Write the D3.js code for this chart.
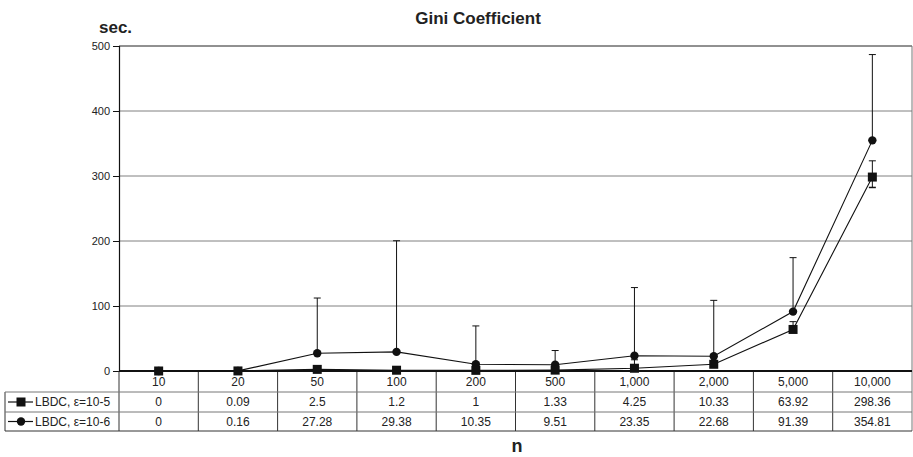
<!DOCTYPE html>
<html>
<head>
<meta charset="utf-8">
<script src="https://cdn.jsdelivr.net/npm/d3@7"></script>
<style>
  html, body { margin: 0; padding: 0; background: #fff; }
  svg { display: block; font-family: "Liberation Sans", Arial, sans-serif; }
</style>
</head>
<body>
<svg id="chart" width="913" height="457"></svg>
<script>
// Run time (sec.) of LBDC for the Gini coefficient, by problem size n
const categories = ["10", "20", "50", "100", "200", "500", "1,000", "2,000", "5,000", "10,000"];
const seriesNames = ["LBDC, \u03b5=10-5", "LBDC, \u03b5=10-6"];
const lbdc5 = [0, 0.09, 2.5, 1.2, 1, 1.33, 4.25, 10.33, 63.92, 298.36];
const lbdc6 = [0, 0.16, 27.28, 29.38, 10.35, 9.51, 23.35, 22.68, 91.39, 354.81];
// error bar extents (plus / minus)
const lbdc5ErrPlus = [0, 0, 0, 0, 0, 0, 13, 0, 12, 25];
const lbdc5ErrMinus = [0, 0, 0, 0, 0, 0, 0, 0, 0, 16];
const lbdc6ErrPlus = [0, 0, 85, 171, 59, 22, 105, 86, 83, 132];
const yTicks = [0, 100, 200, 300, 400, 500];

const svg = d3.select("#chart");
const plotLeft = 119, plotRight = 912, plotTop = 46, plotBottom = 371;
const rowH = [21, 20, 19];
const tableLeft = 5;

const x = d3.scaleBand().domain(categories).range([plotLeft, plotRight]).padding(0);
const y = d3.scaleLinear().domain([0, 500]).range([plotBottom, plotTop]);
const cx = c => x(c) + x.bandwidth() / 2;

// horizontal gridlines
svg.append("g").selectAll("line").data(yTicks.filter(t => t > 0)).join("line")
  .attr("x1", plotLeft).attr("x2", plotRight)
  .attr("y1", d => y(d)).attr("y2", d => y(d))
  .attr("stroke", d => d === 500 ? "#222" : "#808080").attr("stroke-width", 1);

// y axis
const yAxis = d3.axisLeft(y).tickValues(yTicks).tickSize(6).tickPadding(3).tickFormat(d3.format("d"));
const gy = svg.append("g").attr("transform", `translate(${plotLeft},0)`).call(yAxis);
gy.select(".domain").attr("stroke", "#111").attr("stroke-width", 1.2);
gy.selectAll(".tick line").attr("stroke", "#111");
gy.selectAll(".tick text").attr("font-size", 11).attr("fill", "#222")
  .attr("font-family", "Liberation Sans, Arial, sans-serif");

// data table below the axis
const rowY = [plotBottom, plotBottom + rowH[0], plotBottom + rowH[0] + rowH[1], plotBottom + rowH[0] + rowH[1] + rowH[2]];

// right border of plot and table
svg.append("line").attr("x1", plotRight).attr("x2", plotRight).attr("y1", plotTop).attr("y2", rowY[3])
  .attr("stroke", "#777");

const table = svg.append("g");
// band separators
table.selectAll("line.sep").data(categories.slice(1)).join("line").attr("class", "sep")
  .attr("x1", d => x(d)).attr("x2", d => x(d))
  .attr("y1", rowY[0]).attr("y2", rowY[3]).attr("stroke", "#333");
table.append("line").attr("x1", plotLeft).attr("x2", plotLeft).attr("y1", rowY[0]).attr("y2", rowY[3]).attr("stroke", "#333");
table.append("line").attr("x1", tableLeft).attr("x2", tableLeft).attr("y1", rowY[1]).attr("y2", rowY[3]).attr("stroke", "#333");
[1, 2, 3].forEach(i => {
  table.append("line").attr("x1", tableLeft).attr("x2", plotRight).attr("y1", rowY[i]).attr("y2", rowY[i])
    .attr("stroke", i === 3 ? "#333" : "#777");
});
// category labels
table.selectAll("text.cat").data(categories).join("text").attr("class", "cat")
  .attr("x", d => cx(d)).attr("y", rowY[0] + 14.5)
  .attr("text-anchor", "middle").attr("font-size", 12).attr("fill", "#222").text(d => d);
// value rows
[lbdc5, lbdc6].forEach((vals, r) => {
  table.selectAll(`text.v${r}`).data(vals).join("text").attr("class", `v${r}`)
    .attr("x", (d, i) => cx(categories[i])).attr("y", rowY[r + 1] + 14)
    .attr("text-anchor", "middle").attr("font-size", 12).attr("fill", "#222").text(d => String(d));
});
// legend keys inside the table
seriesNames.forEach((name, r) => {
  const yy = rowY[r + 1] + (rowY[r + 2] - rowY[r + 1]) / 2;
  table.append("line").attr("x1", 8).attr("x2", 33).attr("y1", yy).attr("y2", yy).attr("stroke", "#111").attr("stroke-width", 1.2);
  if (r === 0) table.append("rect").attr("x", 16.5).attr("y", yy - 4.5).attr("width", 9).attr("height", 9).attr("fill", "#111");
  else table.append("circle").attr("cx", 21).attr("cy", yy).attr("r", 4.2).attr("fill", "#111");
  table.append("text").attr("x", 35).attr("y", rowY[r + 1] + 14).attr("font-size", 12).attr("fill", "#222").text(name);
});

// x axis line
svg.append("line").attr("x1", plotLeft).attr("x2", plotRight).attr("y1", plotBottom).attr("y2", plotBottom)
  .attr("stroke", "#111").attr("stroke-width", 2);

// error bars
const plot = svg.append("g");
function errorBars(vals, plus, minus) {
  vals.forEach((v, i) => {
    const px = cx(categories[i]);
    if (plus[i] > 0) {
      plot.append("line").attr("x1", px).attr("x2", px).attr("y1", y(v)).attr("y2", y(v + plus[i])).attr("stroke", "#111");
      plot.append("line").attr("x1", px - 3.5).attr("x2", px + 3.5).attr("y1", y(v + plus[i])).attr("y2", y(v + plus[i])).attr("stroke", "#111");
    }
    if (minus && minus[i] > 0) {
      plot.append("line").attr("x1", px).attr("x2", px).attr("y1", y(v)).attr("y2", y(v - minus[i])).attr("stroke", "#111");
      plot.append("line").attr("x1", px - 3.5).attr("x2", px + 3.5).attr("y1", y(v - minus[i])).attr("y2", y(v - minus[i])).attr("stroke", "#111").attr("stroke-width", 1.5);
    }
  });
}
errorBars(lbdc6, lbdc6ErrPlus, null);
errorBars(lbdc5, lbdc5ErrPlus, lbdc5ErrMinus);

// series lines
const line = d3.line().x((d, i) => cx(categories[i])).y(d => y(d));
[lbdc6, lbdc5].forEach(vals => {
  plot.append("path").datum(vals).attr("d", line).attr("fill", "none").attr("stroke", "#111").attr("stroke-width", 1.1);
});
// markers
plot.selectAll("circle.m6").data(lbdc6).join("circle").attr("class", "m6")
  .attr("cx", (d, i) => cx(categories[i])).attr("cy", d => y(d)).attr("r", 4.2).attr("fill", "#111");
plot.selectAll("rect.m5").data(lbdc5).join("rect").attr("class", "m5")
  .attr("x", (d, i) => cx(categories[i]) - 4.5).attr("y", d => y(d) - 4.5)
  .attr("width", 9).attr("height", 9).attr("fill", "#111");

// titles
svg.append("text").attr("x", 478).attr("y", 24).attr("text-anchor", "middle")
  .attr("font-size", 17).attr("font-weight", "bold").attr("fill", "#222").text("Gini Coefficient");
svg.append("text").attr("x", 99).attr("y", 33)
  .attr("font-size", 17).attr("font-weight", "bold").attr("fill", "#222").text("sec.");
svg.append("text").attr("x", 517).attr("y", 452).attr("text-anchor", "middle")
  .attr("font-size", 18).attr("font-weight", "bold").attr("fill", "#222").text("n");
</script>
</body>
</html>
